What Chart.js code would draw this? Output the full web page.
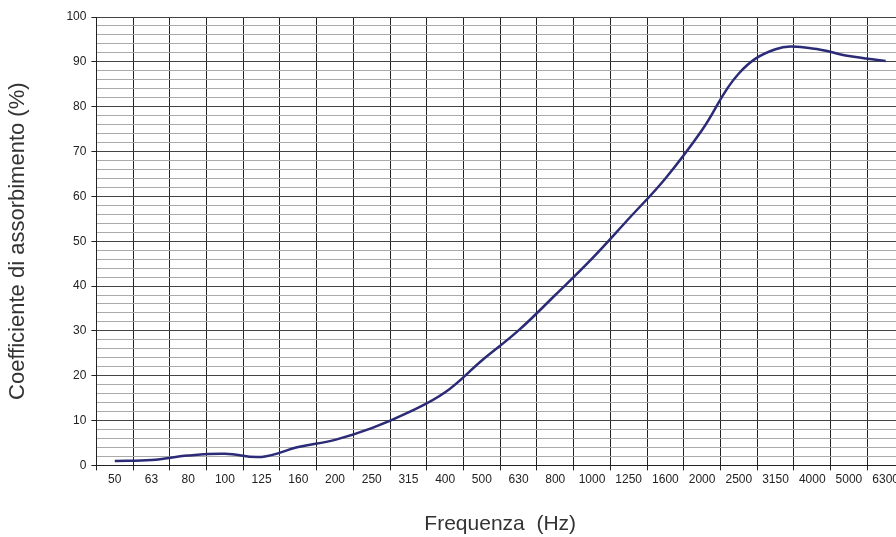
<!DOCTYPE html>
<html>
<head>
<meta charset="utf-8">
<script src="https://cdn.jsdelivr.net/npm/chart.js@4/dist/chart.umd.min.js"></script>
<style>
    body { margin: 0; overflow: hidden; background: #fff; }
    #wrap { width: 904px; height: 537px; }
</style>
</head>
<body>
<div id="wrap"><canvas id="absChart"></canvas></div>
<script>
const frequencies = ['50', '63', '80', '100', '125', '160', '200', '250', '315', '400', '500',
    '630', '800', '1000', '1250', '1600', '2000', '2500', '3150', '4000', '5000', '6300'];
const absorption = [1.0, 1.2, 2.2, 2.6, 1.9, 4.1, 5.7, 8.3, 11.8, 16.3, 23.4,
    30.1, 38.0, 46.1, 55.0, 64.0, 74.8, 87.4, 92.8, 93.0, 91.3, 90.2];
const yLabelEvery = 10;

const font = 'Arial, "Liberation Sans", sans-serif';

new Chart(document.getElementById('absChart'), {
    type: 'line',
    data: {
        labels: frequencies,
        datasets: [{
            data: absorption,
            borderColor: '#2b2b78',
            borderWidth: 2.5,
            pointRadius: 0,
            tension: 0.4,
            fill: false
        }]
    },
    options: {
        responsive: true,
        maintainAspectRatio: false,
        animation: false,
        layout: { padding: { left: 5, top: 17, right: 0, bottom: 0 } },
        plugins: { legend: { display: false }, tooltip: { enabled: false } },
        scales: {
            x: {
                offset: true,
                grid: {
                    offset: true,
                    color: '#222',
                    lineWidth: 1,
                    tickLength: 5,
                    tickColor: '#222'
                },
                border: { color: '#222' },
                ticks: {
                    color: '#222',
                    padding: 2,
                    maxRotation: 0,
                    autoSkip: false,
                    font: { family: font, size: 12 }
                },
                title: {
                    display: true,
                    text: 'Frequenza  (Hz)',
                    color: '#333',
                    font: { family: font, size: 21 },
                    padding: { top: 23, bottom: 0 }
                }
            },
            y: {
                min: 0,
                max: 100,
                grid: {
                    color: ctx => (ctx.tick && ctx.tick.value % yLabelEvery === 0) ? '#444' : '#aaa',
                    tickColor: ctx => (ctx.tick && ctx.tick.value % yLabelEvery === 0) ? '#222' : 'rgba(0,0,0,0)',
                    tickLength: 5,
                    lineWidth: 1
                },
                border: { color: '#222' },
                ticks: {
                    stepSize: 2,
                    autoSkip: false,
                    padding: 5,
                    color: '#222',
                    font: { family: font, size: 12 },
                    callback: v => (v % yLabelEvery === 0 ? v : '')
                },
                title: {
                    display: true,
                    text: 'Coefficiente di assorbimento (%)',
                    color: '#333',
                    font: { family: font, size: 22 },
                    padding: { top: 0, bottom: 30 }
                }
            }
        }
    }
});
</script>
</body>
</html>
